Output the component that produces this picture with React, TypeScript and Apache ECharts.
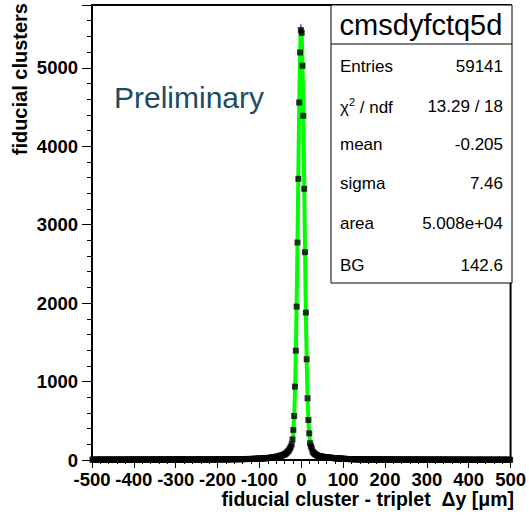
import React, { useEffect, useRef } from "react";
import * as echarts from "echarts";

const FONT = '"Liberation Sans", Arial, Helvetica, sans-serif';

// Histogram binning: 500 bins of 2 µm from -500 to 500
const BIN_LOW = -500;
const BIN_WIDTH = 2;

// bin contents, bins centred at -499 ... -41
const countsLeftTail: (number | null)[] = [
  3, 4, 2, 3, 5, 3, 4, 3, 2, 4,
  3, 5, 4, 3, 4, 2, 3, 4, 5, 3,
  4, 3, 3, 5, 4, 4, 3, 2, 4, 5,
  3, 4, 5, 3, 4, 3, 5, 4, 3, 4,
  4, 5, 3, 4, 4, 3, 5, 4, 6, 4,
  5, 4, 4, 3, 5, 6, 4, 5, 4, 5,
  4, 5, 6, 4, 5, 3, 5, 4, 6, 5,
  5, 4, 6, 5, 4, 6, 5, 5, 4, 6,
  5, 6, 4, 5, 6, 5, 4, 6, 5, 6,
  6, 5, 5, 7, 4, 6, 5, 6, 7, 5,
  6, 5, 7, 6, 5, 6, 7, 5, 6, 7,
  6, 7, 5, 6, 7, 6, 7, null, null, 6,
  7, 6, 7, 8, 6, 7, 6, 8, 7, 7,
  7, 8, 6, 7, 8, 7, 8, 7, 6, 8,
  8, 7, 8, 9, 7, 8, 8, 9, 7, 8,
  8, 9, 8, 9, 10, 8, 9, 8, 10, 9,
  9, 10, 9, 8, 10, 11, 9, 10, 11, 10,
  10, 11, 10, 12, 11, 10, 12, 11, 12, 11,
  12, 11, 13, 12, 12, 13, 14, 12, 13, 14,
  14, 13, 15, 14, 15, 16, 15, 17, 16, 18,
  19, 18, 20, 21, 20, 22, 23, 22, 24, 25,
  26, 27, 28, 29, 31, 32, 34, 35, 37, 39,
  41, 43, 46, 48, 51, 54, 57, 61, 65, 70,
];

// bins centred at -39 ... 39
const countsCore: number[] = [
  76, 83, 92, 103, 116, 130, 148, 170, 200, 262,
  383, 561, 935, 1394, 1955, 2772, 3584, 4557, 5195, 5480,
  5446, 5026, 4388, 3457, 2649, 1879, 1284, 787, 510, 340,
  213, 175, 150, 108, 95, 84, 75, 68, 62, 57,
];

// bins centred at 41 ... 499
const countsRightTail: number[] = [
  52, 49, 47, 45, 43, 41, 39, 37, 36, 34,
  33, 32, 31, 30, 29, 28, 27, 26, 25, 24,
  23, 22, 21, 20, 19, 19, 18, 17, 16, 16,
  15, 15, 14, 14, 13, 13, 12, 12, 12, 11,
  11, 11, 10, 10, 10, 9, 10, 9, 9, 8,
  9, 8, 8, 9, 8, 7, 8, 8, 7, 8,
  7, 8, 7, 7, 6, 7, 7, 6, 7, 6,
  7, 6, 6, 7, 6, 6, 5, 6, 6, 5,
  6, 5, 6, 5, 6, 5, 5, 6, 5, 5,
  5, 6, 5, 5, 4, 5, 6, 5, 4, 5,
  5, 4, 5, 5, 4, 6, 4, 5, 4, 5,
  4, 5, 4, 5, 4, 4, 5, 3, 4, 5,
  4, 4, 5, 4, 3, 4, 5, 4, 4, 3,
  4, 5, 3, 4, 4, 3, 4, 5, 3, 4,
  3, 4, 4, 3, 5, 4, 3, 4, 3, 4,
  4, 3, 4, 3, 4, 3, 4, 4, 3, 3,
  3, 4, 3, 4, 3, 3, 4, 3, 4, 3,
  3, 3, 4, 3, 3, 4, 2, 3, 4, 3,
  3, 4, 3, 2, 3, 3, 4, 3, 2, 3,
  3, 2, 3, 4, 3, 2, 3, 3, 2, 3,
  2, 3, 3, 2, 4, 3, 2, 3, 3, 2,
  3, 2, 3, 2, 3, 3, 2, 4, 2, 3,
  2, 3, 2, 3, 2, 3, 3, 2, 3, 2,
];

// fit curve (green) read along the peak
const fitX: number[] = [
  -21, -20, -19, -18, -17, -16, -15, -14, -13, -12, -11, -10, -9, -8, -7, -6, -5, -4, -3, -2, -1,
  0, 1, 2, 3, 4, 5, 6, 7, 8, 9, 10, 11, 12, 13, 14, 15, 16, 17, 18, 19, 20, 21, 22, 23,
];
const fitY: number[] = [
  252, 301, 366, 453, 567, 711, 891, 1110, 1372, 1676, 2021, 2402, 2814, 3243, 3678, 4102, 4497, 4847, 5134, 5345, 5468,
  5496, 5430, 5271, 5028, 4713, 4343, 3934, 3505, 3070, 2646, 2246, 1878, 1549, 1262, 1017, 814, 650, 518, 416, 338, 280, 237, 207, 185,
];

const xTickMin = -500;
const xTickMax = 500;
const xTickStep = 100;
const yTickMin = 0;
const yTickMax = 5800;
const yTickStep = 1000;

const statsTitle = "cmsdyfctq5d";
const statsLabels = ["Entries", "χ2 / ndf", "mean", "sigma", "area", "BG"];
const statsValues = ["59141", "13.29 / 18", "-0.205", "7.46", "5.008e+04", "142.6"];

const xTitle = "fiducial cluster - triplet  Δy [μm]";
const yTitle = "fiducial clusters";
const watermark = "Preliminary";

export default function App() {
  const ref = useRef<HTMLDivElement>(null);

  useEffect(() => {
    if (!ref.current) return;
    const chart = echarts.init(ref.current, undefined, { renderer: "svg" });

    const counts = [...countsLeftTail, ...countsCore, ...countsRightTail];
    const centers = counts.map((_, i) => BIN_LOW + BIN_WIDTH * (i + 0.5));
    const points: [number, number][] = [];
    const errs: [number, number, number][] = [];
    counts.forEach((c, i) => {
      if (c == null) return;
      points.push([centers[i], c]);
      errs.push([centers[i], c, Math.sqrt(c)]);
    });
    const fitData = fitX.map((x, i) => [x, fitY[i]]);

    const rowYs = [66, 106, 144, 183, 223, 265];
    const statsGraphics: any[] = [
      {
        type: "rect",
        shape: { x: 331, y: 5, width: 181, height: 278 },
        style: { fill: "#fff", stroke: "#000", lineWidth: 1 },
        z: 100,
      },
      {
        type: "line",
        shape: { x1: 331, y1: 44, x2: 512, y2: 44 },
        style: { stroke: "#000", lineWidth: 1 },
        z: 101,
      },
      {
        type: "text",
        z: 101,
        style: {
          text: statsTitle,
          x: 421,
          y: 25,
          font: `29px ${FONT}`,
          fill: "#000",
          align: "center",
          textAlign: "center",
          verticalAlign: "middle",
          textVerticalAlign: "middle",
        },
      },
    ];
    statsLabels.forEach((lab, i) => {
      const isChi = lab.startsWith("χ");
      statsGraphics.push({
        type: "text",
        z: 101,
        style: isChi
          ? {
              text: "{a|χ}{s|2}{a| / ndf}",
              x: 340,
              y: rowYs[i],
              fill: "#000",
              align: "left",
              textAlign: "left",
              verticalAlign: "middle",
              textVerticalAlign: "middle",
              rich: {
                a: { font: `17px ${FONT}`, fill: "#000", verticalAlign: "bottom", lineHeight: 20 },
                s: { font: `11px ${FONT}`, fill: "#000", verticalAlign: "top", lineHeight: 20 },
              },
            }
          : {
              text: lab,
              x: 340,
              y: rowYs[i],
              font: `17px ${FONT}`,
              fill: "#000",
              align: "left",
              textAlign: "left",
              verticalAlign: "middle",
              textVerticalAlign: "middle",
            },
      });
      statsGraphics.push({
        type: "text",
        z: 101,
        style: {
          text: statsValues[i],
          x: 503,
          y: rowYs[i],
          font: `17px ${FONT}`,
          fill: "#000",
          align: "right",
          textAlign: "right",
          verticalAlign: "middle",
          textVerticalAlign: "middle",
        },
      });
    });

    const option: any = {
      animation: false,
      backgroundColor: "#fff",
      grid: {
        left: 92,
        right: 17,
        top: 5,
        bottom: 58,
        show: true,
        borderColor: "#000",
        borderWidth: 2,
        backgroundColor: "transparent",
      },
      xAxis: {
        type: "value",
        min: xTickMin,
        max: xTickMax,
        interval: xTickStep,
        axisLine: { show: true, onZero: false, lineStyle: { color: "#000", width: 2 } },
        axisTick: { show: true, length: 8, lineStyle: { color: "#000", width: 1 } },
        minorTick: { show: true, splitNumber: 5, length: 4, lineStyle: { color: "#000", width: 1 } },
        splitLine: { show: false },
        axisLabel: {
          color: "#000",
          fontFamily: FONT,
          fontWeight: "bold",
          fontSize: 18.5,
          margin: 10,
        },
      },
      yAxis: {
        type: "value",
        min: yTickMin,
        max: yTickMax,
        interval: yTickStep,
        axisLine: { show: true, onZero: false, lineStyle: { color: "#000", width: 2 } },
        axisTick: { show: true, length: 10, lineStyle: { color: "#000", width: 1 } },
        minorTick: { show: true, splitNumber: 5, length: 5, lineStyle: { color: "#000", width: 1 } },
        splitLine: { show: false },
        axisLabel: {
          color: "#000",
          fontFamily: FONT,
          fontWeight: "bold",
          fontSize: 18.5,
          margin: 14,
          showMaxLabel: false,
          formatter: (v: number) => (v % 1000 === 0 ? String(v) : ""),
        },
      },
      series: [
        {
          type: "custom",
          z: 1,
          data: errs,
          renderItem: (params: any, api: any) => {
            const x = api.value(0);
            const y = api.value(1);
            const e = api.value(2);
            const p1 = api.coord([x, y + e]);
            const p2 = api.coord([x, Math.max(0, y - e)]);
            return {
              type: "line",
              shape: { x1: p1[0], y1: p1[1], x2: p2[0], y2: p2[1] },
              style: { stroke: "#1030ff", lineWidth: 1.2 },
            };
          },
        },
        {
          type: "line",
          z: 2,
          data: fitData,
          showSymbol: false,
          smooth: false,
          lineStyle: { color: "#00ff00", width: 4 },
          itemStyle: { color: "#00ff00" },
        },
        {
          type: "scatter",
          z: 3,
          data: points,
          symbol: "rect",
          symbolSize: 6,
          itemStyle: { color: "#000" },
        },
      ],
      graphic: [
        {
          type: "text",
          z: 50,
          style: {
            text: watermark,
            x: 114,
            y: 97,
            font: `30px ${FONT}`,
            fill: "#1c4b63",
            align: "left",
            textAlign: "left",
            verticalAlign: "middle",
            textVerticalAlign: "middle",
          },
        },
        {
          type: "text",
          z: 50,
          style: {
            text: xTitle,
            x: 514,
            y: 499,
            font: `bold 19.5px ${FONT}`,
            fill: "#000",
            align: "right",
            textAlign: "right",
            verticalAlign: "middle",
            textVerticalAlign: "middle",
          },
        },
        {
          type: "text",
          z: 50,
          x: 20,
          y: 3,
          rotation: Math.PI / 2,
          style: {
            text: yTitle,
            x: 0,
            y: 0,
            font: `bold 20px ${FONT}`,
            fill: "#000",
            align: "right",
            textAlign: "right",
            verticalAlign: "middle",
            textVerticalAlign: "middle",
          },
        },
        ...statsGraphics,
      ],
    };

    chart.setOption(option);
    return () => chart.dispose();
  }, []);

  return (
    <div
      ref={ref}
      style={{ position: "fixed", left: 0, top: 0, width: 529, height: 518, background: "#fff" }}
    />
  );
}
